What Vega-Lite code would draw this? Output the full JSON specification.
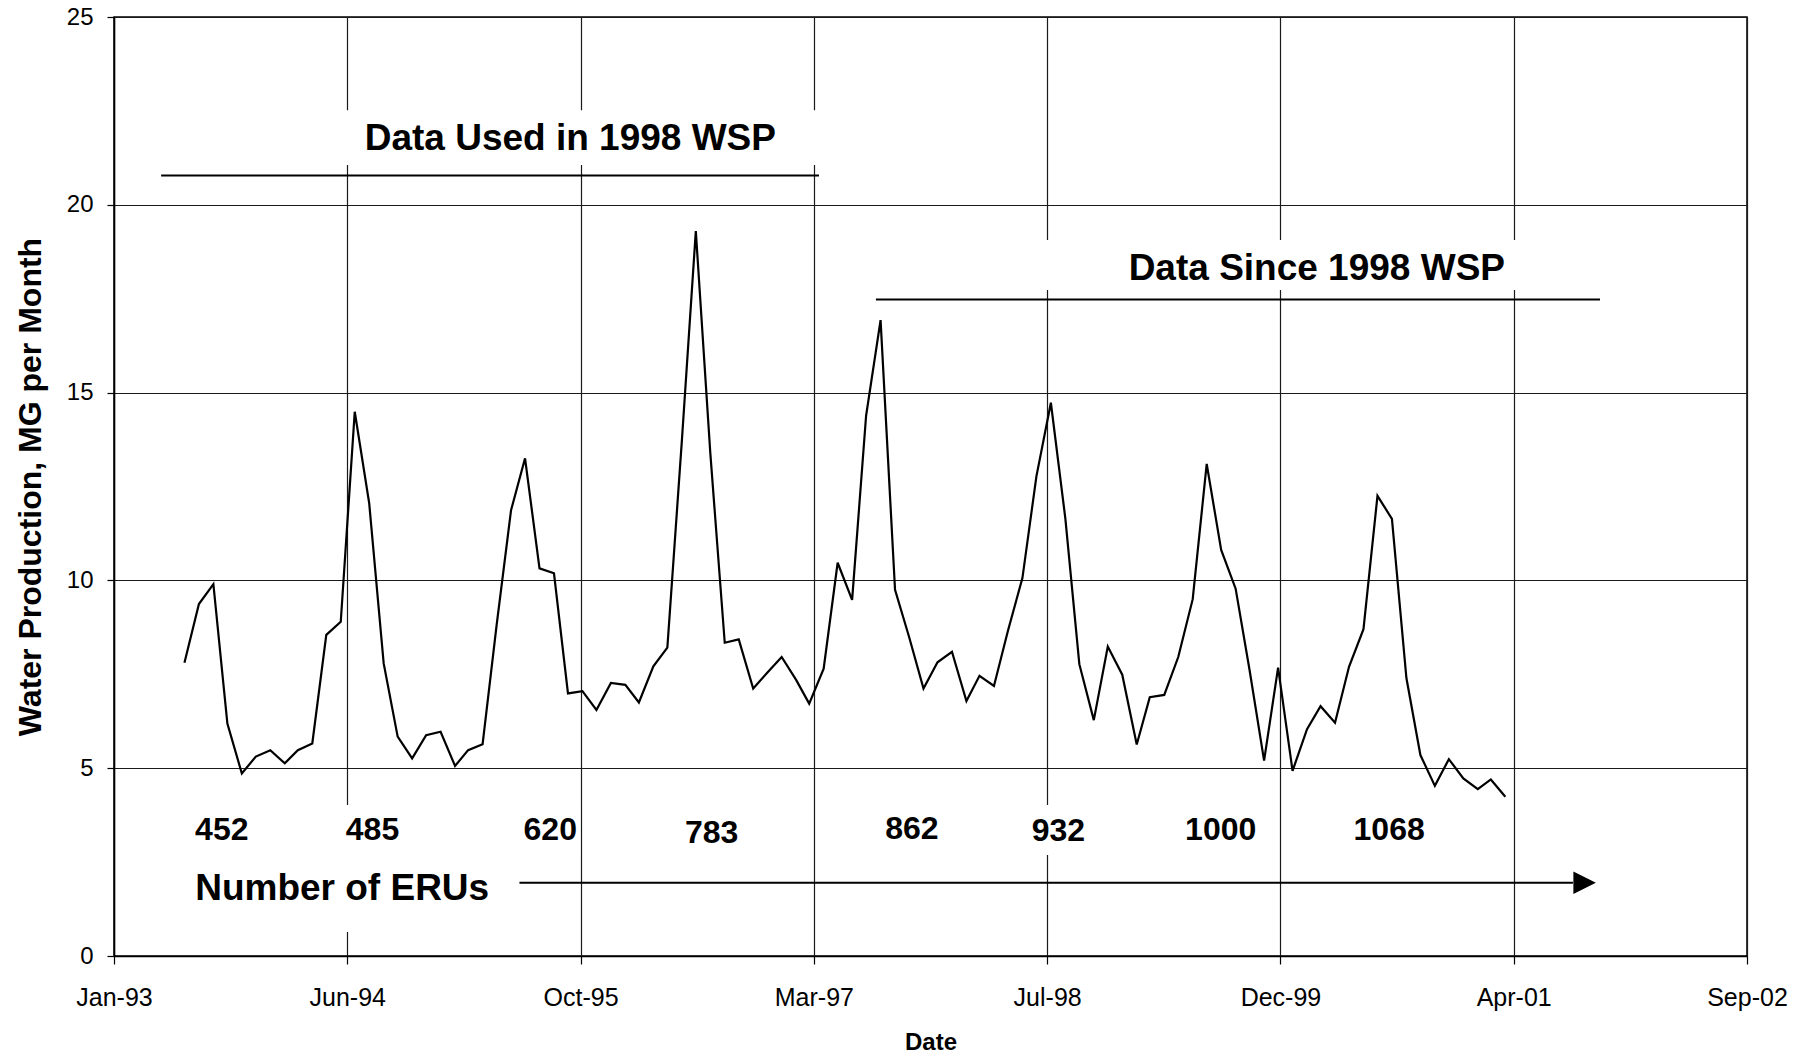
{
  "$schema": "https://vega.github.io/schema/vega-lite/v6.json",
  "width": 1633,
  "height": 939,
  "autosize": {"type": "none"},
  "padding": {"left": 114, "top": 17, "right": 62, "bottom": 101},
  "background": "white",
  "config": {
    "font": "Liberation Sans",
    "view": {"stroke": "black", "strokeWidth": 1.5},
    "axis": {
      "gridColor": "#1a1a1a", "gridWidth": 1.2, "gridOpacity": 1,
      "domainColor": "black", "domainWidth": 1.5,
      "tickColor": "black", "tickWidth": 1.2,
      "labelColor": "black", "titleColor": "black",
      "labelFont": "Liberation Sans", "titleFont": "Liberation Sans"
    },
    "axisX": {"labelFontSize": 25, "titleFontSize": 24, "titleFontWeight": "bold", "tickSize": 8, "labelPadding": 21, "titlePadding": 20, "grid": true, "labelFlush": false, "labelOverlap": false},
    "axisY": {"labelFontSize": 24, "titleFontSize": 32, "titleFontWeight": "bold", "tickSize": 7, "labelPadding": 14, "titlePadding": 19, "grid": true}
  },
  "layer": [
    {
      "data": {"values": [
        {"date": "1994-05-30", "date2": "1997-04-01", "mg": 22.52, "mg2": 21.06},
        {"date": "1998-07-09", "date2": "2001-05-02", "mg": 19.06, "mg2": 17.73},
        {"date": "1993-07-17", "date2": "1993-11-22", "mg": 4.02, "mg2": 2.69},
        {"date": "1994-06-05", "date2": "1994-10-11", "mg": 4.02, "mg2": 2.69},
        {"date": "1995-06-21", "date2": "1995-10-27", "mg": 4.02, "mg2": 2.69},
        {"date": "1996-06-01", "date2": "1996-10-07", "mg": 4.02, "mg2": 2.69},
        {"date": "1997-08-04", "date2": "1997-12-10", "mg": 4.02, "mg2": 2.69},
        {"date": "1998-06-14", "date2": "1998-10-20", "mg": 4.02, "mg2": 2.69},
        {"date": "1999-05-07", "date2": "1999-10-24", "mg": 4.02, "mg2": 2.69},
        {"date": "2000-05-02", "date2": "2000-10-19", "mg": 4.02, "mg2": 2.69},
        {"date": "1993-07-04", "date2": "1995-05-08", "mg": 2.69, "mg2": 0.64}
      ]},
      "mark": {"type": "rect", "color": "white", "opacity": 1, "strokeWidth": 0},
      "encoding": {
        "x": {"field": "date", "type": "temporal", "title": "Date"},
        "x2": {"field": "date2"},
        "y": {"field": "mg", "type": "quantitative", "title": "Water Production, MG per Month"},
        "y2": {"field": "mg2"}
      }
    },
    {
      "data": {"values": [
        {"date": "1993-07-01", "mg": 7.81}, {"date": "1993-08-01", "mg": 9.37}, {"date": "1993-09-01", "mg": 9.90},
        {"date": "1993-10-01", "mg": 6.19}, {"date": "1993-11-01", "mg": 4.86}, {"date": "1993-12-01", "mg": 5.31},
        {"date": "1994-01-01", "mg": 5.48}, {"date": "1994-02-01", "mg": 5.13}, {"date": "1994-03-01", "mg": 5.48},
        {"date": "1994-04-01", "mg": 5.66}, {"date": "1994-05-01", "mg": 8.55}, {"date": "1994-06-01", "mg": 8.90},
        {"date": "1994-07-01", "mg": 14.49}, {"date": "1994-08-01", "mg": 12.05}, {"date": "1994-09-01", "mg": 7.79},
        {"date": "1994-10-01", "mg": 5.84}, {"date": "1994-11-01", "mg": 5.26}, {"date": "1994-12-01", "mg": 5.88},
        {"date": "1995-01-01", "mg": 5.97}, {"date": "1995-02-01", "mg": 5.06}, {"date": "1995-03-01", "mg": 5.48},
        {"date": "1995-04-01", "mg": 5.64}, {"date": "1995-05-01", "mg": 8.8}, {"date": "1995-06-01", "mg": 11.87},
        {"date": "1995-07-01", "mg": 13.25}, {"date": "1995-08-01", "mg": 10.32}, {"date": "1995-09-01", "mg": 10.19},
        {"date": "1995-10-01", "mg": 6.99}, {"date": "1995-11-01", "mg": 7.05}, {"date": "1995-12-01", "mg": 6.55},
        {"date": "1996-01-01", "mg": 7.27}, {"date": "1996-02-01", "mg": 7.22}, {"date": "1996-03-01", "mg": 6.75},
        {"date": "1996-04-01", "mg": 7.71}, {"date": "1996-05-01", "mg": 8.21}, {"date": "1996-06-01", "mg": 13.7},
        {"date": "1996-07-01", "mg": 19.30}, {"date": "1996-08-01", "mg": 13.4}, {"date": "1996-09-01", "mg": 8.34},
        {"date": "1996-10-01", "mg": 8.43}, {"date": "1996-11-01", "mg": 7.12}, {"date": "1996-12-01", "mg": 7.54},
        {"date": "1997-01-01", "mg": 7.96}, {"date": "1997-02-01", "mg": 7.35}, {"date": "1997-03-01", "mg": 6.72},
        {"date": "1997-04-01", "mg": 7.65}, {"date": "1997-05-01", "mg": 10.47}, {"date": "1997-06-01", "mg": 9.48},
        {"date": "1997-07-01", "mg": 14.39}, {"date": "1997-08-01", "mg": 16.93}, {"date": "1997-09-01", "mg": 9.75},
        {"date": "1997-10-01", "mg": 8.5}, {"date": "1997-11-01", "mg": 7.12}, {"date": "1997-12-01", "mg": 7.82},
        {"date": "1998-01-01", "mg": 8.10}, {"date": "1998-02-01", "mg": 6.79}, {"date": "1998-03-01", "mg": 7.46},
        {"date": "1998-04-01", "mg": 7.19}, {"date": "1998-05-01", "mg": 8.66}, {"date": "1998-06-01", "mg": 10.06},
        {"date": "1998-07-01", "mg": 12.77}, {"date": "1998-08-01", "mg": 14.73}, {"date": "1998-09-01", "mg": 11.65},
        {"date": "1998-10-01", "mg": 7.77}, {"date": "1998-11-01", "mg": 6.28}, {"date": "1998-12-01", "mg": 8.24},
        {"date": "1999-01-01", "mg": 7.49}, {"date": "1999-02-01", "mg": 5.63}, {"date": "1999-03-01", "mg": 6.89},
        {"date": "1999-04-01", "mg": 6.95}, {"date": "1999-05-01", "mg": 7.96}, {"date": "1999-06-01", "mg": 9.50},
        {"date": "1999-07-01", "mg": 13.10}, {"date": "1999-08-01", "mg": 10.81}, {"date": "1999-09-01", "mg": 9.78},
        {"date": "1999-10-01", "mg": 7.6}, {"date": "1999-11-01", "mg": 5.20}, {"date": "1999-12-01", "mg": 7.68},
        {"date": "2000-01-01", "mg": 4.93}, {"date": "2000-02-01", "mg": 6.04}, {"date": "2000-03-01", "mg": 6.65},
        {"date": "2000-04-01", "mg": 6.21}, {"date": "2000-05-01", "mg": 7.7}, {"date": "2000-06-01", "mg": 8.7},
        {"date": "2000-07-01", "mg": 12.25}, {"date": "2000-08-01", "mg": 11.64}, {"date": "2000-09-01", "mg": 7.4},
        {"date": "2000-10-01", "mg": 5.35}, {"date": "2000-11-01", "mg": 4.53}, {"date": "2000-12-01", "mg": 5.24},
        {"date": "2001-01-01", "mg": 4.73}, {"date": "2001-02-01", "mg": 4.44}, {"date": "2001-03-01", "mg": 4.70},
        {"date": "2001-04-01", "mg": 4.24}
      ]},
      "mark": {"type": "line", "color": "black", "strokeWidth": 2.2},
      "encoding": {
        "x": {
          "field": "date", "type": "temporal", "title": "Date",
          "scale": {"type": "utc", "nice": false, "domain": [
            {"year": 1993, "month": 1, "date": 31, "utc": true},
            {"year": 2002, "month": 9, "date": 1, "utc": true}
          ]},
          "axis": {
            "format": "%b-%y",
            "values": [
              {"year": 1993, "month": 1, "date": 31, "utc": true},
              {"year": 1994, "month": 6, "date": 15, "utc": true},
              {"year": 1995, "month": 10, "date": 28, "utc": true},
              {"year": 1997, "month": 3, "date": 11, "utc": true},
              {"year": 1998, "month": 7, "date": 24, "utc": true},
              {"year": 1999, "month": 12, "date": 6, "utc": true},
              {"year": 2001, "month": 4, "date": 19, "utc": true},
              {"year": 2002, "month": 9, "date": 1, "utc": true}
            ]
          }
        },
        "y": {
          "field": "mg", "type": "quantitative", "title": "Water Production, MG per Month",
          "scale": {"domain": [0, 25], "nice": false},
          "axis": {"values": [0, 5, 10, 15, 20, 25]}
        }
      }
    },
    {
      "data": {"values": [
        {"date": "1993-05-12", "date2": "1997-03-22", "mg": 20.78},
        {"date": "1997-07-22", "date2": "2001-10-21", "mg": 17.48},
        {"date": "1995-06-19", "date2": "2001-08-24", "mg": 1.95}
      ]},
      "mark": {"type": "rule", "color": "black", "strokeWidth": 2},
      "encoding": {
        "x": {"field": "date", "type": "temporal", "title": "Date"},
        "x2": {"field": "date2"},
        "y": {"field": "mg", "type": "quantitative", "title": "Water Production, MG per Month"}
      }
    },
    {
      "data": {"values": [{"date": "2001-09-18", "mg": 1.95}]},
      "mark": {"type": "point", "shape": "M-1,-1L1,0L-1,1Z", "size": 506, "filled": true, "color": "black", "opacity": 1, "strokeWidth": 0},
      "encoding": {
        "x": {"field": "date", "type": "temporal", "title": "Date"},
        "y": {"field": "mg", "type": "quantitative", "title": "Water Production, MG per Month"}
      }
    },
    {
      "data": {"values": [
        {"date": "1995-10-06", "mg": 21.46, "label": "Data Used in 1998 WSP"},
        {"date": "2000-02-22", "mg": 18.0, "label": "Data Since 1998 WSP"}
      ]},
      "mark": {"type": "text", "font": "Liberation Sans", "fontWeight": "bold", "fontSize": 37, "align": "center", "baseline": "alphabetic", "color": "black"},
      "encoding": {
        "x": {"field": "date", "type": "temporal", "title": "Date"},
        "y": {"field": "mg", "type": "quantitative", "title": "Water Production, MG per Month"},
        "text": {"field": "label", "type": "nominal"}
      }
    },
    {
      "data": {"values": [
        {"date": "1993-09-19", "mg": 3.08, "label": "452"},
        {"date": "1994-08-08", "mg": 3.08, "label": "485"},
        {"date": "1995-08-24", "mg": 3.08, "label": "620"},
        {"date": "1996-08-04", "mg": 3.02, "label": "783"},
        {"date": "1997-10-07", "mg": 3.11, "label": "862"},
        {"date": "1998-08-17", "mg": 3.06, "label": "932"},
        {"date": "1999-07-31", "mg": 3.08, "label": "1000"},
        {"date": "2000-07-26", "mg": 3.08, "label": "1068"}
      ]},
      "mark": {"type": "text", "font": "Liberation Sans", "fontWeight": "bold", "fontSize": 32, "align": "center", "baseline": "alphabetic", "color": "black"},
      "encoding": {
        "x": {"field": "date", "type": "temporal", "title": "Date"},
        "y": {"field": "mg", "type": "quantitative", "title": "Water Production, MG per Month"},
        "text": {"field": "label", "type": "nominal"}
      }
    },
    {
      "data": {"values": [
        {"date": "1993-07-24", "mg": 1.49, "label": "Number of ERUs"}
      ]},
      "mark": {"type": "text", "font": "Liberation Sans", "fontWeight": "bold", "fontSize": 37, "align": "left", "baseline": "alphabetic", "color": "black"},
      "encoding": {
        "x": {"field": "date", "type": "temporal", "title": "Date"},
        "y": {"field": "mg", "type": "quantitative", "title": "Water Production, MG per Month"},
        "text": {"field": "label", "type": "nominal"}
      }
    }
  ]
}
